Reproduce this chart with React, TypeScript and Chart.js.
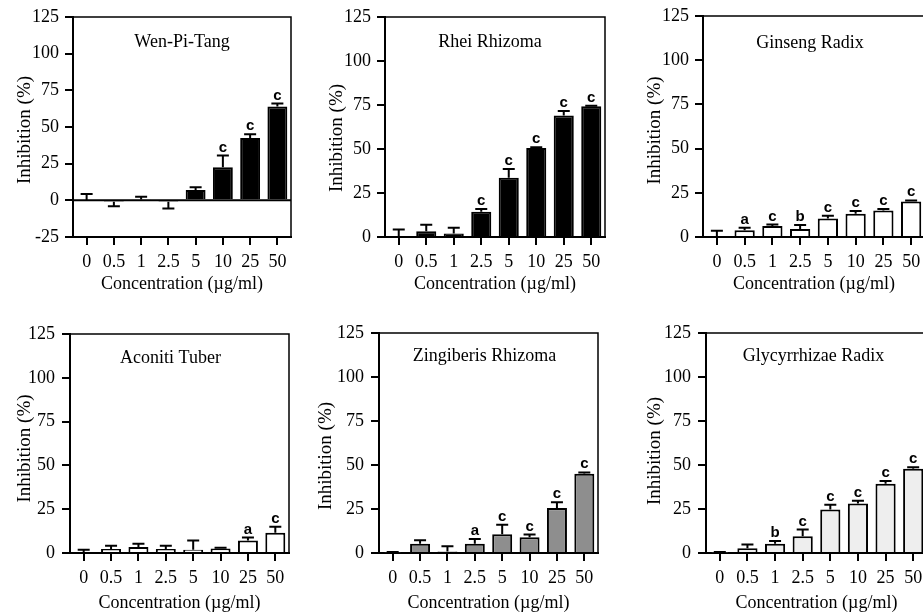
import React, { useEffect, useRef } from "react";
import { Chart, registerables } from "chart.js";

Chart.register(...registerables);

const FONT = "'Liberation Serif', 'Times New Roman', serif";
const LETTER_FONT = "bold 15px 'Liberation Sans', Arial, sans-serif";

// ---- data ----
const concentrations = ["0", "0.5", "1", "2.5", "5", "10", "25", "50"];
const yTickMax = 125;
const yTickStep = 25;

const wenPiTangMean = [0, -1, 0.5, -1, 7, 22.5, 42.5, 64];
const wenPiTangErr = [4.3, 3, 2, 4.5, 2, 8, 2.5, 2];
const wenPiTangSig = ["", "", "", "", "", "c", "c", "c"];

const rheiMean = [0, 3.2, 2, 14.4, 33.6, 50.5, 69, 74.3];
const rheiErr = [4.2, 3.8, 3.3, 1.5, 5, 0.5, 2.6, 0.3];
const rheiSig = ["", "", "", "c", "c", "c", "c", "c"];

const ginsengMean = [0, 3.8, 6.2, 4.5, 10.5, 13.2, 15, 20.1];
const ginsengErr = [3.6, 1.5, 0.8, 2.3, 1.5, 1.5, 0.8, 0.6];
const ginsengSig = ["", "a", "c", "b", "c", "c", "c", "c"];

const aconitiMean = [0, 2.3, 3.4, 2.3, 1.9, 2.5, 7.2, 11.6];
const aconitiErr = [1.9, 1.9, 1.9, 1.9, 5.3, 0.5, 1.6, 3.4];
const aconitiSig = ["", "", "", "", "", "", "a", "c"];

const zingiberisMean = [0.3, 5.3, 0.8, 5.3, 10.6, 8.9, 25.5, 45];
const zingiberisErr = [0.3, 1.9, 3, 2.7, 5.4, 1.6, 3.4, 0.8];
const zingiberisSig = ["", "", "", "a", "c", "c", "c", "c"];

const glycyrrhizaeMean = [0.3, 2.7, 5.3, 9.5, 24.7, 28.1, 39.4, 47.9];
const glycyrrhizaeErr = [0.3, 2.2, 1.5, 3.8, 2.7, 1.6, 1.5, 0.8];
const glycyrrhizaeSig = ["", "", "b", "c", "c", "c", "c", "c"];

const yAxisTitle = "Inhibition (%)";
const xAxisTitle = "Concentration (\u00b5g/ml)";

// ---- panels (content + layout) ----
const panels = [
  { title: "Wen-Pi-Tang", mean: wenPiTangMean, err: wenPiTangErr, sig: wenPiTangSig, yMin: -25, fill: "#000000",
    box: { L: 73, T: 17, R: 291, B: 237 }, titleDx: 0, titleDy: 25, yTitleDx: -48, yTitleDy: 3, row: 1 },
  { title: "Rhei Rhizoma", mean: rheiMean, err: rheiErr, sig: rheiSig, yMin: 0, fill: "#000000",
    box: { L: 385, T: 17, R: 605, B: 237 }, titleDx: -5, titleDy: 25, yTitleDx: -48, yTitleDy: 11, row: 1 },
  { title: "Ginseng Radix", mean: ginsengMean, err: ginsengErr, sig: ginsengSig, yMin: 0, fill: "#ffffff",
    box: { L: 703, T: 16, R: 925, B: 237 }, titleDx: -4, titleDy: 27, yTitleDx: -48, yTitleDy: 4, row: 1 },
  { title: "Aconiti Tuber", mean: aconitiMean, err: aconitiErr, sig: aconitiSig, yMin: 0, fill: "#ffffff",
    box: { L: 70, T: 334, R: 289, B: 553 }, titleDx: -9, titleDy: 24, yTitleDx: -45, yTitleDy: 5, row: 2 },
  { title: "Zingiberis Rhizoma", mean: zingiberisMean, err: zingiberisErr, sig: zingiberisSig, yMin: 0, fill: "#8e8e8e",
    box: { L: 379, T: 333, R: 598, B: 553 }, titleDx: -4, titleDy: 23, yTitleDx: -53, yTitleDy: 13, row: 2 },
  { title: "Glycyrrhizae Radix", mean: glycyrrhizaeMean, err: glycyrrhizaeErr, sig: glycyrrhizaeSig, yMin: 0, fill: "#eeeeee",
    box: { L: 706, T: 333, R: 927, B: 553 }, titleDx: -3, titleDy: 23, yTitleDx: -51, yTitleDy: 8, row: 2 },
];

const PAD_L = 75;
const PAD_T = 20;
const PAD_R = 15;
const PAD_B = 70;

function Panel({ cfg }: { cfg: any }) {
  const ref = useRef<HTMLCanvasElement | null>(null);
  const { L, T, R, B } = cfg.box;
  const w = R - L + PAD_L + PAD_R;
  const h = B - T + PAD_T + PAD_B;

  useEffect(() => {
    if (!ref.current) return;
    const overlay = {
      id: "overlay",
      afterDatasetsDraw(chart: any) {
        const { ctx, chartArea: a, scales } = chart;
        const x = scales.x;
        const y = scales.y;
        ctx.save();
        ctx.strokeStyle = "#000";
        ctx.fillStyle = "#000";
        // frame (top + right)
        ctx.lineWidth = 1.5;
        ctx.beginPath();
        ctx.moveTo(a.left, a.top);
        ctx.lineTo(a.right, a.top);
        ctx.lineTo(a.right, a.bottom);
        ctx.stroke();
        // zero line
        if (cfg.yMin < 0) {
          const y0 = y.getPixelForValue(0);
          ctx.lineWidth = 2;
          ctx.beginPath();
          ctx.moveTo(a.left, y0);
          ctx.lineTo(a.right, y0);
          ctx.stroke();
        }
        // error bars + letters
        ctx.lineWidth = 2;
        cfg.mean.forEach((m: number, i: number) => {
          const e = cfg.err[i];
          const xc = x.getPixelForValue(i);
          const y1 = y.getPixelForValue(m);
          const y2 = y.getPixelForValue(m >= 0 ? m + e : m - e);
          ctx.beginPath();
          ctx.moveTo(xc, y1);
          ctx.lineTo(xc, y2);
          ctx.moveTo(xc - 6, y2);
          ctx.lineTo(xc + 6, y2);
          ctx.stroke();
          const s = cfg.sig[i];
          if (s) {
            ctx.font = LETTER_FONT;
            ctx.textAlign = "center";
            ctx.textBaseline = "alphabetic";
            ctx.fillText(s, xc, Math.min(y1, y2) - 4);
          }
        });
        // panel title
        ctx.font = `18px ${FONT}`;
        ctx.textAlign = "center";
        ctx.textBaseline = "middle";
        ctx.fillText(cfg.title, (a.left + a.right) / 2 + cfg.titleDx, a.top + cfg.titleDy);
        // y axis title
        ctx.font = `19px ${FONT}`;
        ctx.translate(a.left + cfg.yTitleDx, (a.top + a.bottom) / 2 + cfg.yTitleDy);
        ctx.rotate(-Math.PI / 2);
        ctx.fillText(yAxisTitle, 0, 0);
        ctx.restore();
      },
    };

    const row1 = cfg.row === 1;
    const chart = new Chart(ref.current, {
      type: "bar",
      data: {
        labels: concentrations,
        datasets: [
          {
            data: cfg.mean,
            backgroundColor: cfg.fill,
            borderColor: "#000",
            borderWidth: 2,
            barPercentage: 0.73,
            categoryPercentage: 1,
          },
        ],
      },
      options: {
        responsive: false,
        animation: false,
        events: [],
        layout: { padding: { top: PAD_T, right: PAD_R, left: 0, bottom: 0 } },
        plugins: { legend: { display: false }, tooltip: { enabled: false }, title: { display: false } },
        scales: {
          x: {
            offset: true,
            grid: { display: true, drawOnChartArea: false, offset: false, tickLength: 8, tickWidth: 2, tickColor: "#000", color: "#000", lineWidth: 2 },
            border: { display: true, color: "#000", width: 2 },
            ticks: { color: "#000", font: { family: FONT, size: 18 }, padding: row1 ? 6.5 : 6, maxRotation: 0, autoSkip: false },
            title: { display: true, text: xAxisTitle, color: "#000", font: { family: FONT, size: 18 }, padding: { top: 0, bottom: row1 ? 11.8 : 9.4 } },
            afterFit: (s: any) => { s.height = PAD_B; },
          },
          y: {
            min: cfg.yMin,
            max: yTickMax,
            grid: { display: true, drawOnChartArea: false, tickLength: 8, tickWidth: 2, tickColor: "#000", color: "#000", lineWidth: 2 },
            border: { display: true, color: "#000", width: 2 },
            ticks: { stepSize: yTickStep, color: "#000", font: { family: FONT, size: 18 }, padding: row1 ? 6 : 7 },
            title: { display: false },
            afterFit: (s: any) => { s.width = PAD_L; },
          },
        },
      },
      plugins: [overlay],
    } as any);
    return () => chart.destroy();
  }, []);

  return (
    <canvas
      ref={ref}
      width={w}
      height={h}
      style={{ position: "absolute", left: L - PAD_L, top: T - PAD_T, width: w, height: h }}
    />
  );
}

export default function App() {
  return (
    <div style={{ position: "fixed", left: 0, top: 0, width: 923, height: 613, overflow: "hidden", background: "#fff" }}>
      {panels.map((p, i) => (
        <Panel key={i} cfg={p} />
      ))}
    </div>
  );
}
